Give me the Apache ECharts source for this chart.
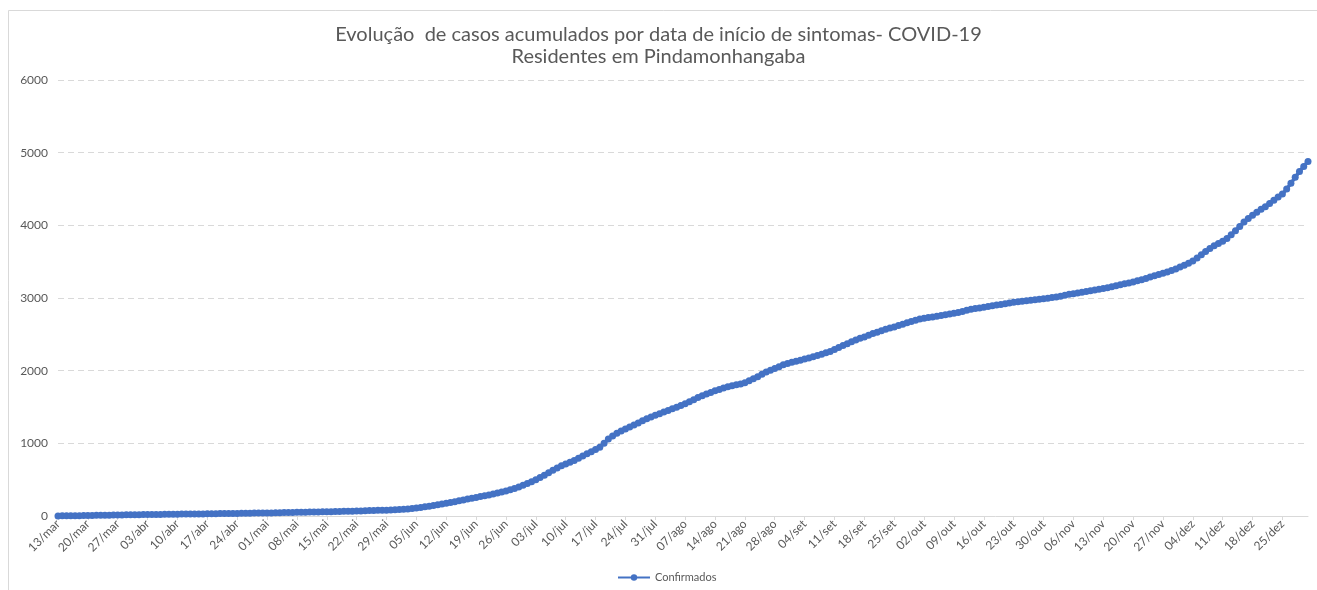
<!DOCTYPE html>
<html>
<head>
<meta charset="utf-8">
<script src="https://cdn.jsdelivr.net/npm/echarts/dist/echarts.min.js"></script>
<style>
  html, body { margin: 0; padding: 0; background: #fff; }
  #chart { width: 1317px; height: 590px; }
</style>
</head>
<body>
<div id="chart"></div>
<script>
// casos acumulados, um valor por dia a partir de 13/mar
const confirmados = [
  1, 2, 2, 3, 4, 5, 6,
  8, 8, 9, 10, 11, 12, 13,
  14, 15, 16, 17, 17, 18, 19,
  20, 21, 21, 22, 23, 24, 24,
  25, 26, 27, 27, 28, 29, 29,
  30, 31, 32, 33, 34, 34, 35,
  36, 37, 38, 39, 40, 40, 41,
  42, 43, 44, 45, 47, 48, 49,
  50, 51, 52, 54, 55, 56, 57,
  58, 60, 61, 63, 64, 66, 67,
  68, 70, 72, 74, 76, 78, 79,
  80, 82, 85, 88, 92, 97, 103,
  110, 118, 126, 135, 145, 155, 165,
  175, 186, 197, 209, 221, 233, 245,
  256, 267, 278, 290, 302, 315, 330,
  345, 362, 380, 400, 423, 447, 472,
  500, 530, 562, 595, 628, 660, 690,
  715, 740, 765, 795, 825, 855, 885,
  915, 945, 1000, 1060, 1100, 1140, 1170,
  1198, 1225, 1252, 1280, 1310, 1338, 1362,
  1385, 1408, 1430, 1452, 1475, 1498, 1520,
  1545, 1572, 1600, 1630, 1655, 1678, 1700,
  1722, 1742, 1760, 1778, 1792, 1805, 1818,
  1835, 1860, 1888, 1918, 1950, 1980, 2005,
  2030, 2055, 2080, 2100, 2115, 2130, 2145,
  2160, 2175, 2192, 2208, 2225, 2245, 2265,
  2290, 2318, 2345, 2372, 2398, 2422, 2445,
  2465, 2488, 2510, 2530, 2550, 2570, 2588,
  2602, 2620, 2640, 2660, 2678, 2695, 2710,
  2720, 2730, 2740, 2750, 2760, 2770, 2780,
  2790, 2802, 2815, 2830, 2845, 2856, 2864,
  2872, 2882, 2892, 2902, 2912, 2922, 2932,
  2940, 2948, 2955, 2962, 2970, 2977, 2984,
  2990, 2998, 3006, 3015, 3025, 3038, 3050,
  3060, 3070, 3080, 3090, 3100, 3110, 3120,
  3130, 3142, 3155, 3168, 3182, 3196, 3208,
  3220, 3236, 3252, 3270, 3288, 3306, 3322,
  3340, 3358, 3378, 3400, 3425, 3450, 3478,
  3510, 3550, 3595, 3640, 3680, 3720, 3750,
  3780, 3820, 3870, 3925, 3985, 4045, 4095,
  4140, 4180, 4220, 4255, 4300, 4345, 4390,
  4430, 4500, 4580, 4660, 4740, 4810, 4880
];

const meses = ['jan', 'fev', 'mar', 'abr', 'mai', 'jun', 'jul', 'ago', 'set', 'out', 'nov', 'dez'];
const inicio = [2020, 2, 13]; // 13/mar
const yTicks = [0, 1000, 2000, 3000, 4000, 5000, 6000];

// rótulos dd/mmm, um por dia
const datas = [];
for (let i = 0; i < confirmados.length; i++) {
  const d = new Date(inicio[0], inicio[1], inicio[2] + i);
  datas.push(String(d.getDate()).padStart(2, '0') + '/' + meses[d.getMonth()]);
}

const cinza = '#595959';
const fonte = 'Lato, "Liberation Sans", sans-serif';

const chart = echarts.init(document.getElementById('chart'));
chart.setOption({
  animation: false,
  backgroundColor: '#fff',
  textStyle: { fontFamily: fonte },
  graphic: [{
    type: 'rect',
    shape: { x: 8.5, y: 10.5, width: 1330, height: 620 },
    style: { fill: 'none', stroke: '#d9d9d9', lineWidth: 1 },
    silent: true
  }],
  title: {
    text: 'Evolução  de casos acumulados por data de início de sintomas- COVID-19\nResidentes em Pindamonhangaba',
    left: 'center',
    top: 19,
    textStyle: {
      color: cinza, fontSize: 20, fontWeight: 'normal', lineHeight: 22, fontFamily: fonte
    }
  },
  legend: {
    bottom: 2,
    left: 612,
    itemWidth: 32,
    itemHeight: 8,
    textStyle: { color: cinza, fontSize: 11 },
    data: ['Confirmados']
  },
  grid: { left: 58, right: 9, top: 80, bottom: 74, containLabel: false },
  xAxis: {
    type: 'category',
    data: datas,
    boundaryGap: false,
    axisLine: { lineStyle: { color: '#d9d9d9' } },
    axisTick: { interval: 6, length: 4, lineStyle: { color: '#d9d9d9' } },
    axisLabel: { interval: 6, rotate: 45, color: cinza, fontSize: 12, margin: 6 }
  },
  yAxis: {
    type: 'value',
    min: yTicks[0],
    max: yTicks[yTicks.length - 1],
    interval: 1000,
    axisLine: { show: false },
    axisTick: { show: false },
    axisLabel: { color: cinza, fontSize: 12, margin: 10, formatter: v => String(v) },
    splitLine: { lineStyle: { color: '#d9d9d9', type: [6, 4] } }
  },
  series: [{
    name: 'Confirmados',
    type: 'line',
    data: confirmados,
    color: '#4472c4',
    symbol: 'circle',
    symbolSize: 7,
    showAllSymbol: true,
    lineStyle: { width: 3.5, color: '#4472c4' },
    itemStyle: { color: '#4472c4' }
  }]
});
</script>
</body>
</html>
